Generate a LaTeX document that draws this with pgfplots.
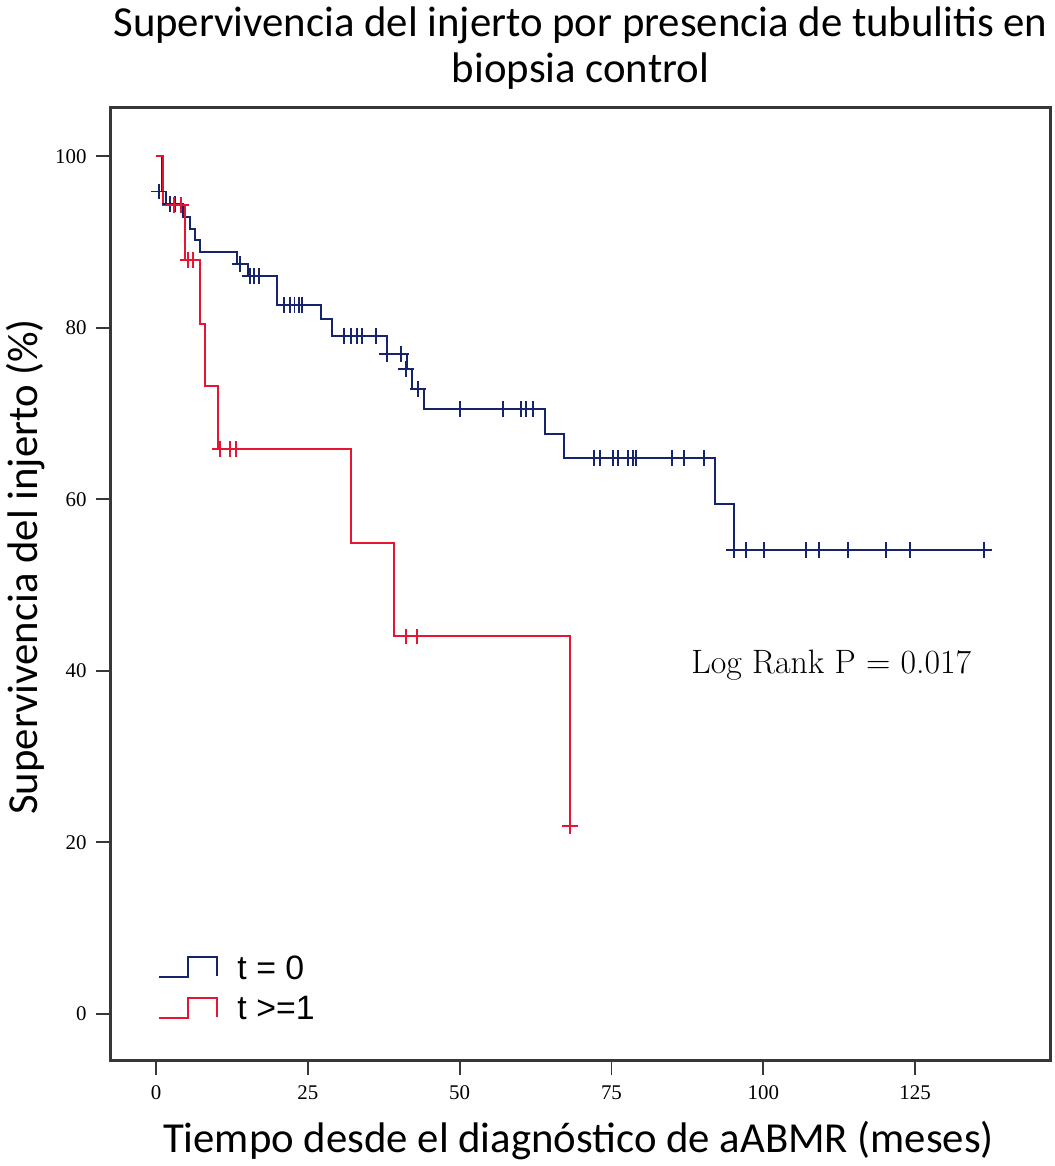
\documentclass[border=0pt]{standalone}
\usepackage{pgfplots}
\pgfplotsset{compat=1.18}
\usepackage{fontspec}
\newfontfamily\carlito{Carlito}
\newfontfamily\lsans{Liberation Sans}
\newfontfamily\lserif{Liberation Serif}
\definecolor{kmblue}{RGB}{22,36,110}
\definecolor{kmred}{RGB}{228,22,52}
\definecolor{framegray}{RGB}{55,55,55}
\begin{document}
\begin{tikzpicture}
\begin{axis}[
  scale only axis,
  width=472.5pt, height=479pt,
  xmin=-7.5, xmax=147.3, ymin=-5.45, ymax=105.7,
  xtick={0,25,50,75,100,125},
  ytick={0,20,40,60,80,100},
  xtick pos=bottom, ytick pos=left,
  tick align=outside,
  major tick length=7.5pt,
  axis line style={framegray, line width=1.5pt},
  every tick/.style={framegray, line width=1pt},
  ticklabel style={font=\lserif\fontsize{10.5}{12}\selectfont},
  xticklabel style={yshift=-1.5pt},
  yticklabel style={xshift=-1pt},
  /pgf/number format/assume math mode=true,
  legend style={draw=none, fill=none, at={(rel axis cs:0.05,0.035)}, anchor=south west,
    font=\lsans\fontsize{17}{19}\selectfont, row sep=3pt, inner sep=0pt,
    /tikz/every odd column/.append style={column sep=8pt}},
  legend cell align=left,
  legend image code/.code={\draw[#1, line width=1pt] (0pt,-4pt) -- (14.5pt,-4pt) -- (14.5pt,6pt) -- (29pt,6pt) -- (29pt,-3.5pt);},
  clip=false,
]
% t = 0 (blue)
\addplot[kmblue, line width=1pt, const plot, mark=none] coordinates {
(0,100) (0.9,95.9) (1.6,94.4) (4.4,92.9) (5.6,91.5) (6.4,90.3) (7.2,88.9)
(13.3,87.4) (15.1,86.0) (20.0,82.7) (27.2,81.0) (29.0,79.0) (38.0,77.0)
(41.3,75.2) (42.1,72.9) (44.1,70.5) (64.1,67.6) (67.2,64.8) (92.1,59.5)
(95.2,54.1) (137.4,54.1)};
\addlegendentry{t = 0}
% t >= 1 (red)
\addplot[kmred, line width=1pt, const plot, mark=none] coordinates {
(0,100) (1.1,94.3) (4.8,87.9) (7.2,80.5) (8.0,73.2) (10.2,65.9)
(32.1,54.9) (39.2,44.0) (68.2,21.9)};
\addlegendentry{t >=1}
% censored marks blue
\addplot[kmblue, only marks, mark=+, mark size=4pt, mark options={line width=1pt}, forget plot] coordinates {
(0.5,95.9) (2.3,94.4) (3.2,94.4)
(13.8,87.4)
(15.4,86.0) (16.2,86.0) (17.0,86.0)
(21.1,82.7) (22.0,82.7) (22.8,82.7) (23.6,82.7) (24.1,82.7)
(31.0,79.0) (32.1,79.0) (33.1,79.0) (33.9,79.0) (36.2,79.0)
(38.0,77.0) (40.3,77.0)
(41.1,75.2)
(43.1,72.9)
(50.1,70.5) (57.2,70.5) (60.1,70.5) (60.9,70.5) (62.1,70.5)
(72.2,64.8) (73.1,64.8) (75.2,64.8) (76.0,64.8) (77.7,64.8) (78.5,64.8) (79.0,64.8)
(85.0,64.8) (87.0,64.8) (90.3,64.8)
(95.2,54.1) (97.1,54.1) (100.1,54.1) (107.1,54.1) (109.1,54.1) (114.0,54.1)
(120.2,54.1) (124.2,54.1) (136.3,54.1)};
% censored marks red
\addplot[kmred, only marks, mark=+, mark size=4pt, mark options={line width=1pt}, forget plot] coordinates {
(3.0,94.3) (4.1,94.3)
(5.3,87.9) (6.1,87.9)
(10.6,65.9) (12.1,65.9) (13.1,65.9)
(41.1,44.0) (42.9,44.0)
(68.2,21.9)};
\node[font=\fontsize{17}{19}\selectfont, anchor=center] at (axis cs:111.2,40.7) {Log Rank P = 0.017};
\node[font=\carlito\fontsize{21.5}{23}\selectfont, align=center, anchor=center, yshift=30pt] at (rel axis cs:0.5,1) {Supervivencia del injerto por presencia de tubulitis en\\biopsia control};
\node[font=\carlito\fontsize{21.5}{23}\selectfont, xshift=-42.5pt, rotate=90, anchor=center] at (rel axis cs:0,0.518) {Supervivencia del injerto (\%)};
\node[font=\carlito\fontsize{21.5}{23}\selectfont, anchor=center, yshift=-40pt, xshift=-1pt] at (rel axis cs:0.5,0) {Tiempo desde el diagnóstico de aABMR (meses)};
\end{axis}
\end{tikzpicture}
\end{document}
